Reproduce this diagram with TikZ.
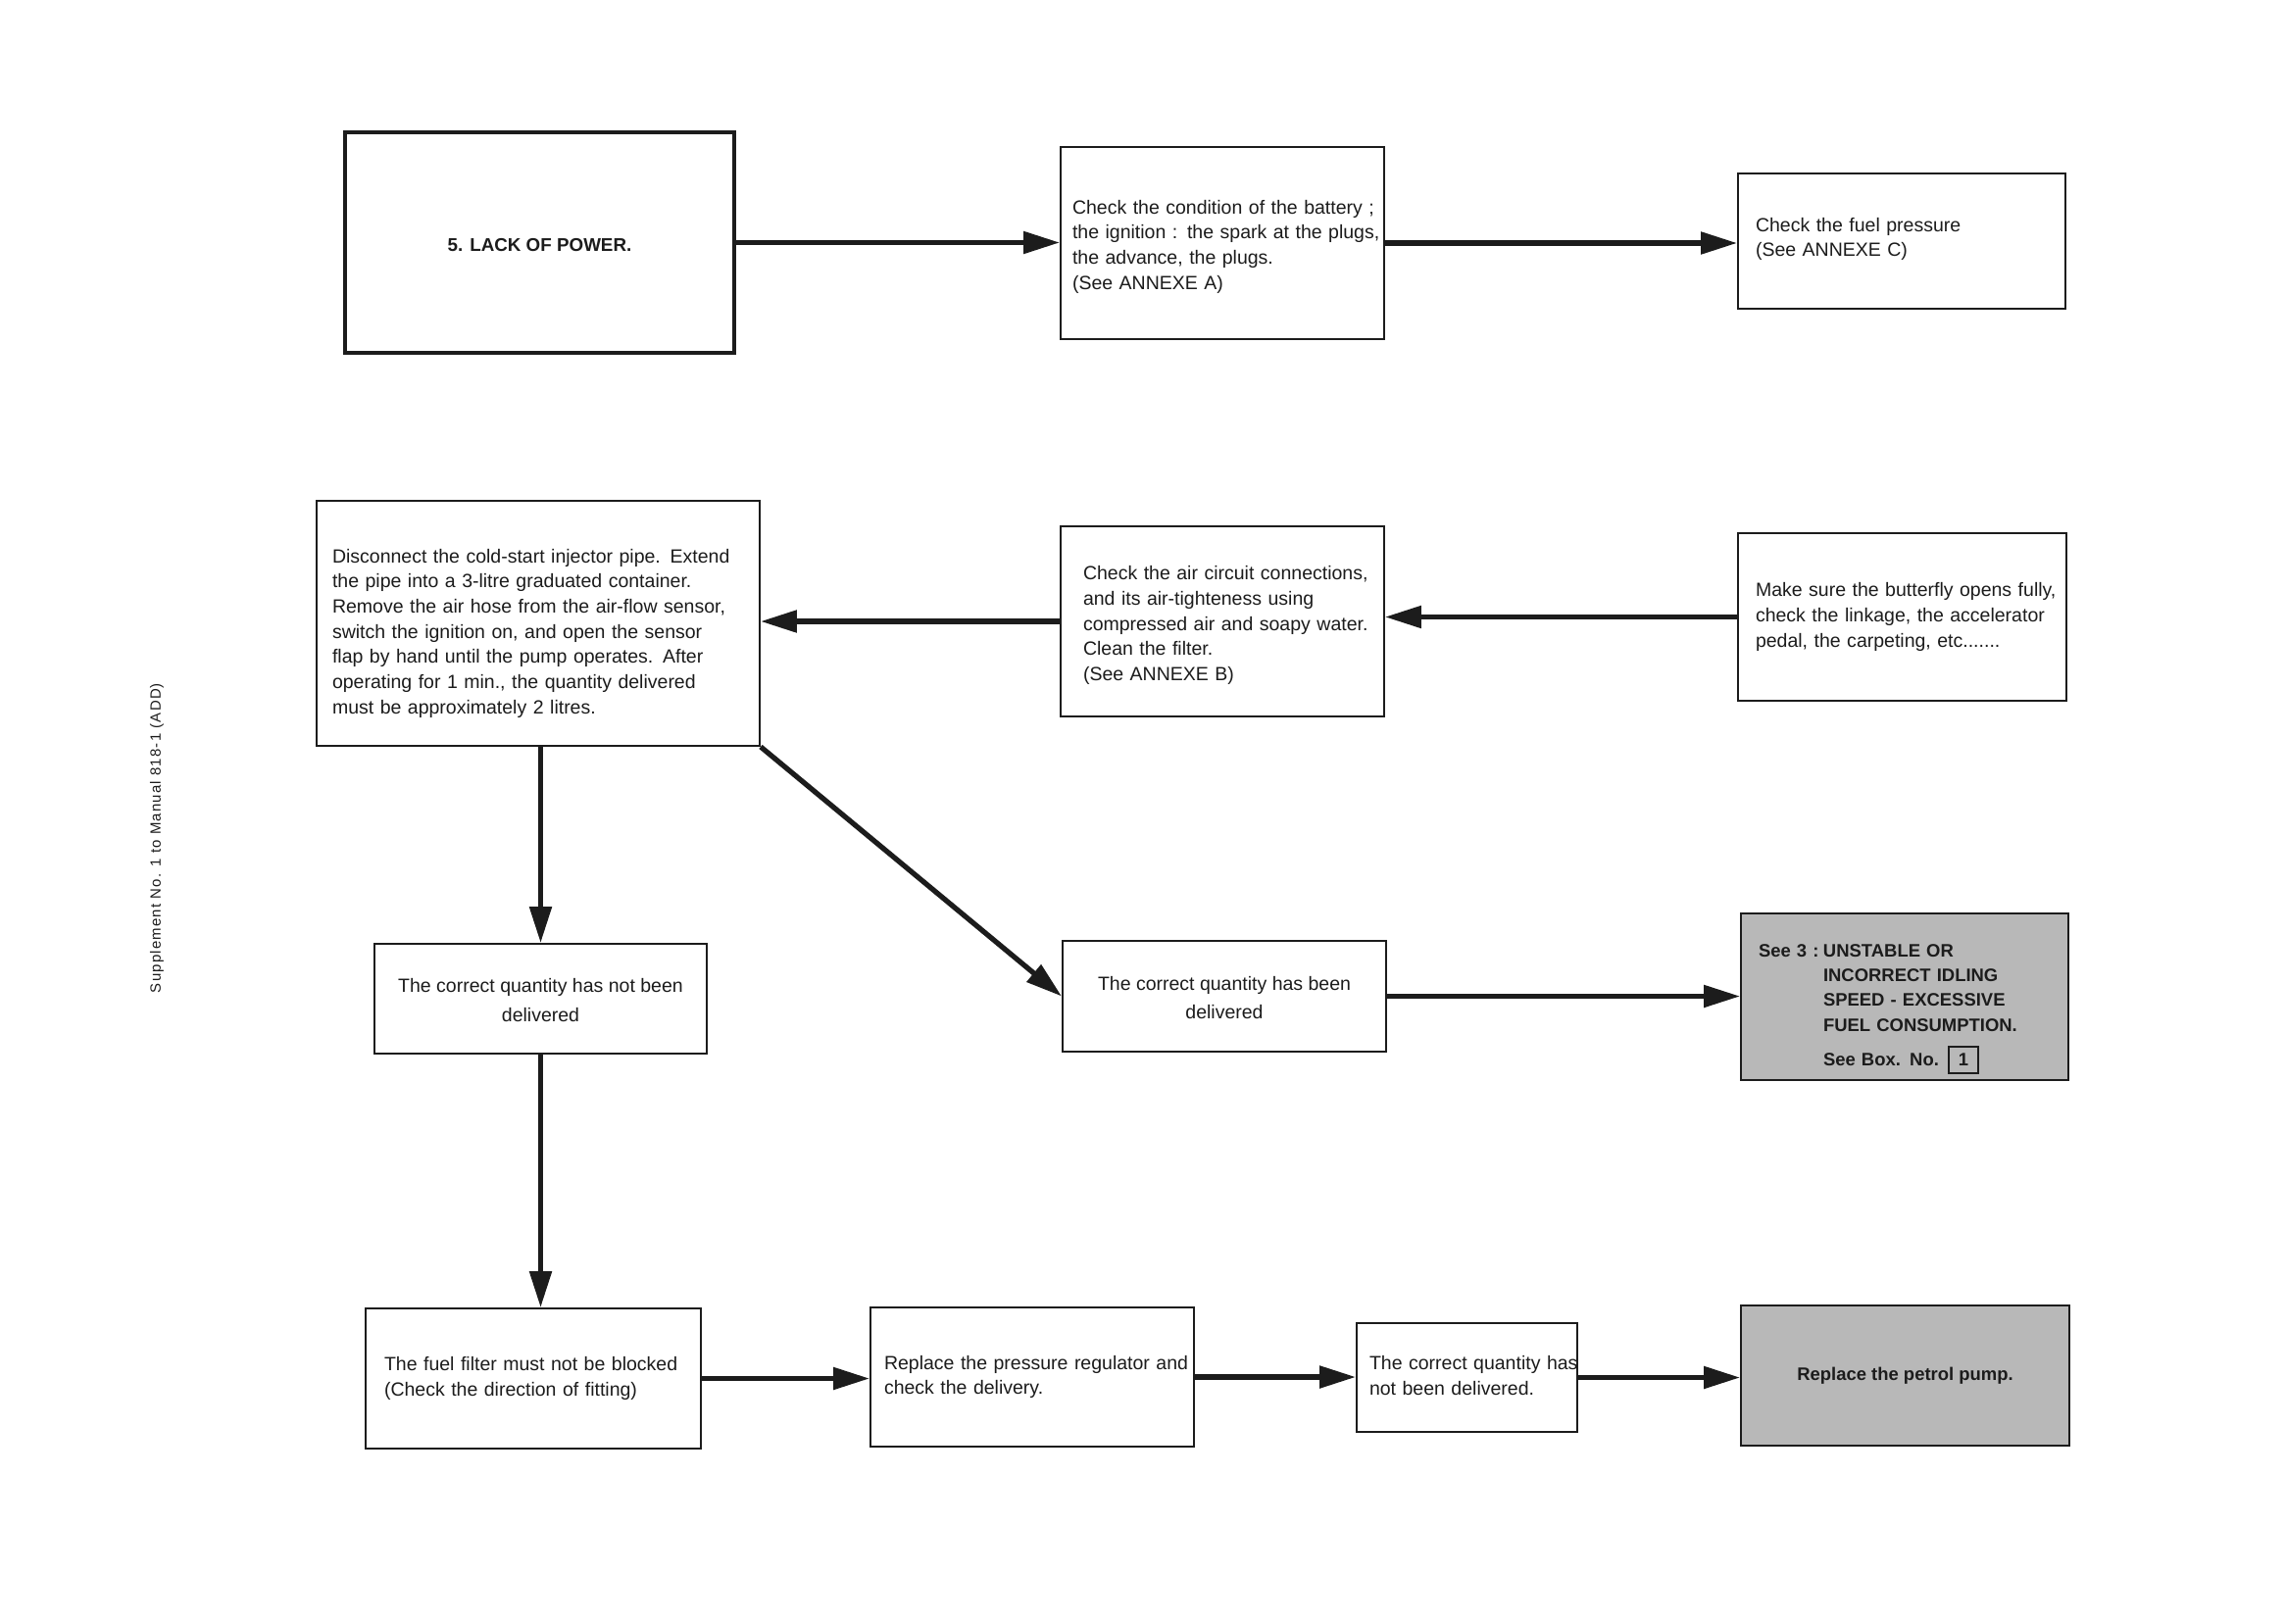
\documentclass[tikz,border=0pt]{standalone}
\usepackage{fontspec}
\setmainfont{Liberation Sans}
\usetikzlibrary{arrows.meta}
\definecolor{boxgray}{RGB}{184,184,184}
\definecolor{ink}{RGB}{28,28,28}
\newcommand{\lefttxt}[2][0pt]{\raisebox{-#1}[\height][\depth]{\begin{tabular}{@{}l@{}}#2\end{tabular}}}
\newcommand{\midtxt}[2][0pt]{\raisebox{-#1}[\height][\depth]{\begin{tabular}{@{}c@{}}#2\end{tabular}}}
\tikzset{
  wh/.style 2 args={minimum width=#1*0.02cm, minimum height=#2*0.02cm},
  tw/.style={text width=#1*0.02cm},
  stepbox/.style={draw=ink, line width=1.1pt, inner sep=0pt, fill=white,
    text=ink, font=\fontsize{11.1}{14.6}\selectfont, align=left},
  widebox/.style={stepbox, font=\fontsize{11.1}{17}\selectfont, align=center},
  titlebox/.style={stepbox, line width=2pt, align=center,
    font=\fontsize{10.7}{13}\selectfont\bfseries},
  graybox/.style={stepbox, fill=boxgray, font=\fontsize{10.5}{14.4}\selectfont\bfseries},
  conn/.style={draw=ink, line width=3pt, -{Triangle[length=0.74cm,width=0.44cm]}},
}
\begin{document}
\begin{tikzpicture}[x=0.02cm, y=-0.02cm]
\useasboundingbox[fill=white] (0,0) rectangle (2331,1656);

% row 1
\node[titlebox, wh={397}{225}] (A) at (550.5,247.5) {\midtxt[0.08cm]{5. LACK OF POWER.}};
\node[stepbox, wh={330}{196}, tw={306}] (B) at (1247,248)
  {\lefttxt[0.07cm]{Check the condition of the battery ;\\
   the ignition : the spark at the plugs,\\
   the advance, the plugs.\\
   (See ANNEXE A)}};
\node[stepbox, wh={334}{138}, tw={298}] (C) at (1940,246)
  {\lefttxt[-0.04cm]{Check the fuel pressure\\ (See ANNEXE C)}};

% row 2
\node[stepbox, wh={452}{250}, tw={420}] (D) at (549,636)
  {\lefttxt[0.2cm]{Disconnect the cold-start injector pipe. Extend\\
   the pipe into a 3-litre graduated container.\\
   Remove the air hose from the air-flow sensor,\\
   switch the ignition on, and open the sensor\\
   flap by hand until the pump operates. After\\
   operating for 1 min., the quantity delivered\\
   must be approximately 2 litres.}};
\node[stepbox, wh={330}{194}, tw={284}] (E) at (1247,634)
  {\lefttxt[0.08cm]{Check the air circuit connections,\\
   and its air-tighteness using\\
   compressed air and soapy water.\\
   Clean the filter.\\
   (See ANNEXE B)}};
\node[stepbox, wh={335}{171}, tw={299}] (F) at (1940.5,629.5)
  {\lefttxt{Make sure the butterfly opens fully,\\
   check the linkage, the accelerator\\
   pedal, the carpeting, etc.......}};

% row 3
\node[widebox, wh={339}{112}] (G) at (551.5,1019)
  {\midtxt[0.05cm]{The correct quantity has not been\\ delivered}};
\node[widebox, wh={330}{113}] (H) at (1249,1016.5)
  {\midtxt[0.05cm]{The correct quantity has been\\ delivered}};
\node[graybox, wh={334}{170}, tw={298}] (I) at (1943,1017)
  {\raisebox{-0.2cm}[\height][\depth]{\begin{tabular}{@{}p{1.32cm}@{}l@{}}
   See 3 : & UNSTABLE OR\\
           & INCORRECT IDLING\\
           & SPEED - EXCESSIVE\\
           & FUEL CONSUMPTION.\\[4pt]
           & See Box. No.\enspace{\setlength{\fboxrule}{1.1pt}\setlength{\fboxsep}{3.5pt}\fbox{\makebox[9pt]{1}}}
   \end{tabular}}};

% row 4
\node[stepbox, wh={342}{143}, tw={304}] (J) at (544,1406.5)
  {\lefttxt{The fuel filter must not be blocked\\
   (Check the direction of fitting)}};
\node[stepbox, wh={330}{142}, tw={302}] (K) at (1053,1405)
  {\lefttxt{Replace the pressure regulator and\\
   check the delivery.}};
\node[stepbox, wh={225}{111}, tw={199}] (L) at (1496.5,1405.5)
  {\lefttxt{The correct quantity has\\ not been delivered.}};
\node[graybox, wh={335}{143}, align=center] (M) at (1943.5,1403.5)
  {Replace the petrol pump.};

% side note
\node[rotate=90, text=ink, font=\fontsize{8.5}{10}\selectfont\addfontfeature{LetterSpace=8}] (S) at (160,855)
  {Supplement No. 1 to Manual 818-1 (ADD)};

% connectors
\draw[conn] (A.east) -- (A.east -| B.west);
\draw[conn] (B.east) -- (B.east -| C.west);
\draw[conn] (F.west) -- (F.west -| E.east);
\draw[conn] (E.west) -- (E.west -| D.east);
\draw[conn] (G.north |- D.south) -- (G.north);
\draw[conn] (D.south east) -- (H.west);
\draw[conn] (H.east) -- (H.east -| I.west);
\draw[conn] (G.south) -- (G.south |- J.north);
\draw[conn] (J.east) -- (J.east -| K.west);
\draw[conn] (K.east) -- (K.east -| L.west);
\draw[conn] (L.east) -- (L.east -| M.west);
\end{tikzpicture}
\end{document}
